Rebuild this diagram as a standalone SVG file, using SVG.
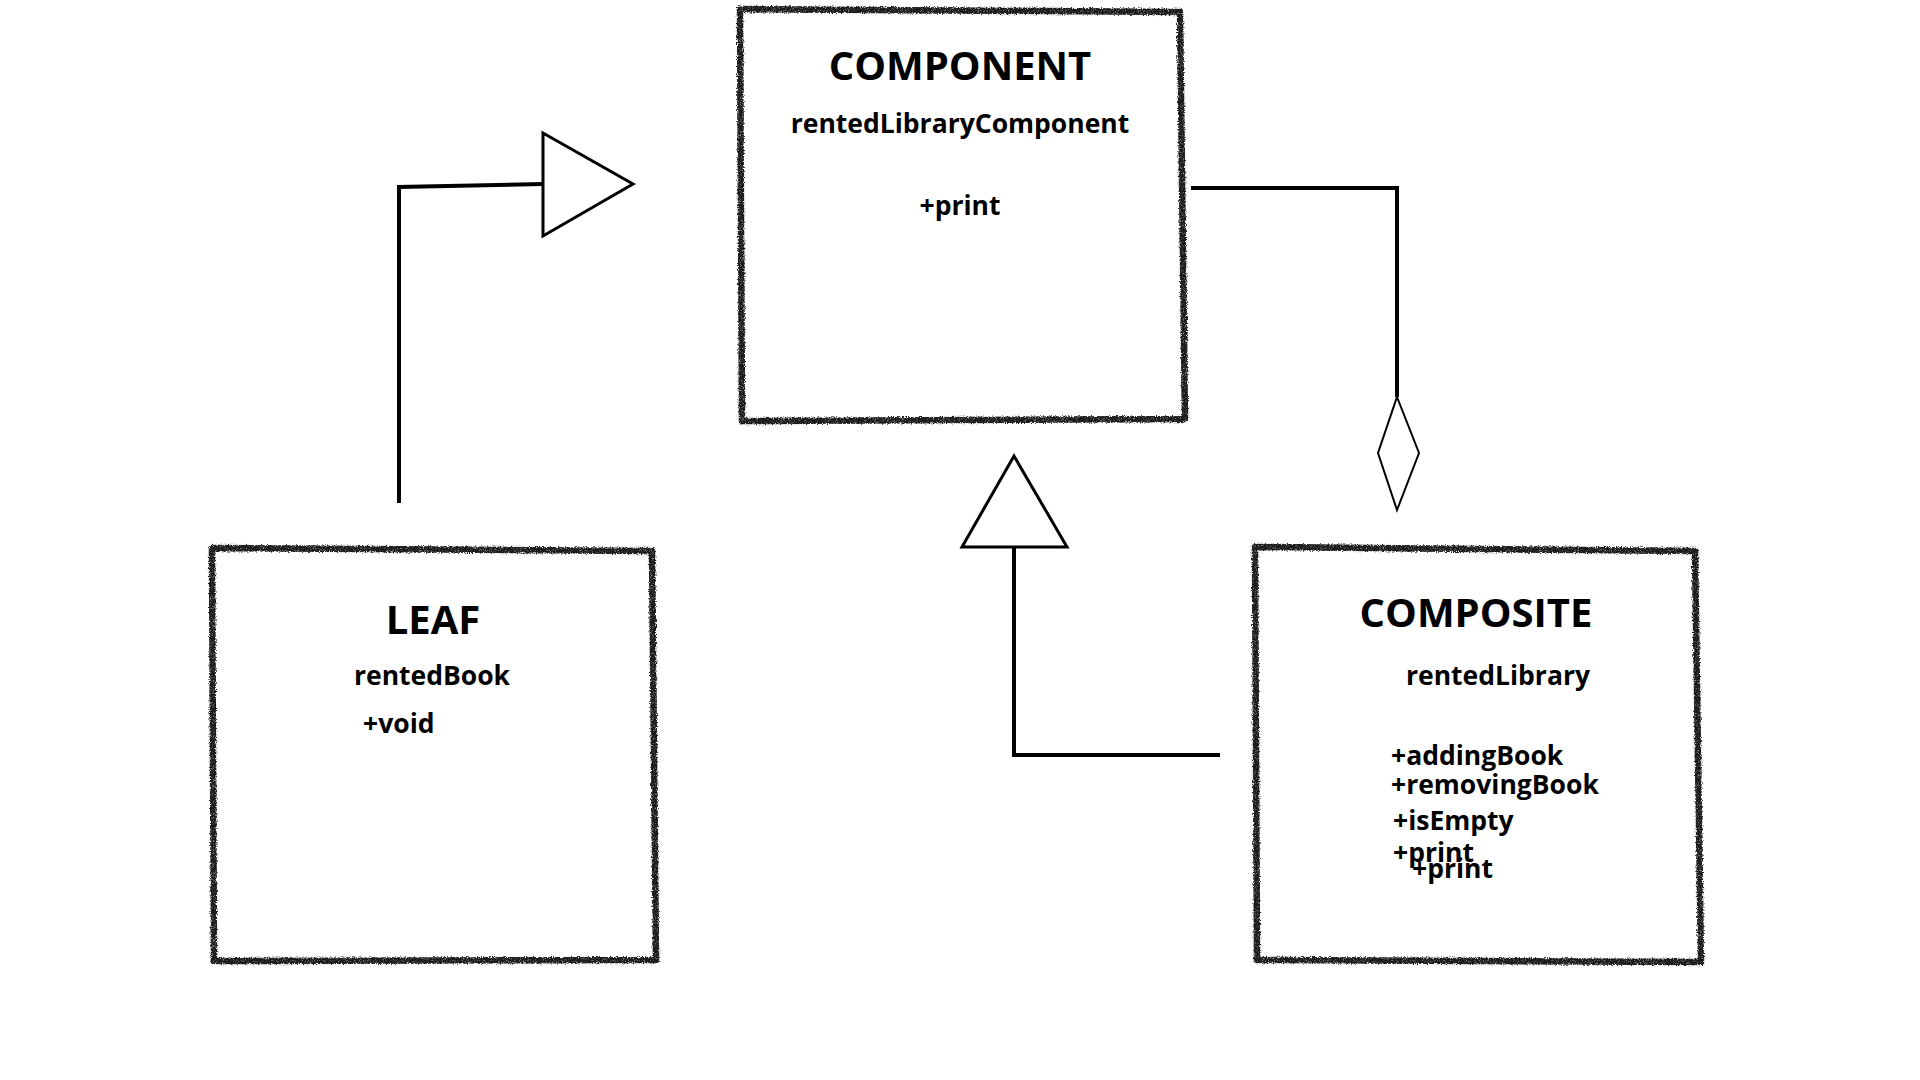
<svg xmlns="http://www.w3.org/2000/svg" width="1920" height="1080" viewBox="0 0 1920 1080">
<defs>
<filter id="rough" x="-5%" y="-5%" width="110%" height="110%">
<feTurbulence type="fractalNoise" baseFrequency="0.8" numOctaves="2" seed="3" result="n"/>
<feDisplacementMap in="SourceGraphic" in2="n" scale="4" xChannelSelector="R" yChannelSelector="G" result="d"/>
<feTurbulence type="fractalNoise" baseFrequency="1.6" numOctaves="1" seed="7" result="g"/>
<feColorMatrix in="g" type="matrix" values="0 0 0 0 0  0 0 0 0 0  0 0 0 0 0  0 0 0 -2.2 2.2" result="ga"/>
<feComposite in="d" in2="ga" operator="in"/>
</filter>
</defs>
<style>
.box{fill:none;stroke:#1a1a1a;stroke-width:6.5;stroke-linejoin:round;filter:url(#rough)}
.t{font-family:"Open Sans","Liberation Sans",sans-serif;font-weight:bold;fill:#000}
.h{font-size:40px}
.s{font-size:26.5px}
.c{text-anchor:middle}
.line{fill:none;stroke:#000;stroke-width:4}
.head{fill:#fff;stroke:#000;stroke-width:3;stroke-linejoin:miter}
.dia{fill:#fff;stroke:#000;stroke-width:2}
</style>
<rect width="1920" height="1080" fill="#ffffff"/>
<g id="connectors">
<path class="line" d="M399,503 L399,187 L543,184"/>
<polygon class="head" points="543,133 633,184 543,236"/>
<path class="line" d="M1191,188 L1397,188 L1397,397"/>
<polygon class="dia" points="1397,397 1419,453 1397,510 1378,453"/>
<path class="line" d="M1220,755 L1014,755 L1014,547"/>
<polygon class="head" points="1014,456 1067,547 962,547"/>
</g>
<g id="component">
<path class="box" d="M740,9 L1180,12 L1185,419 L742,421 Z"/>
<text class="t h c" x="960" y="80">COMPONENT</text>
<text class="t s c" x="960" y="133">rentedLibraryComponent</text>
<text class="t s c" x="960" y="215">+print</text>
</g>
<g id="leaf">
<path class="box" d="M212,548 L652,551 L656,960 L214,961 Z"/>
<text class="t h c" x="433" y="634">LEAF</text>
<text class="t s c" x="432" y="685">rentedBook</text>
<text class="t s" x="363" y="733">+void</text>
</g>
<g id="composite">
<path class="box" d="M1255,547 L1695,551 L1701,962 L1257,960 Z"/>
<text class="t h c" x="1476" y="627">COMPOSITE</text>
<text class="t s c" x="1498" y="685">rentedLibrary</text>
<text class="t s" x="1391" y="765">+addingBook</text>
<text class="t s" x="1391" y="794">+removingBook</text>
<text class="t s" x="1393" y="830">+isEmpty</text>
<text class="t s" x="1393" y="862">+print</text>
<text class="t s" x="1412" y="878">+print</text>
</g>
</svg>
